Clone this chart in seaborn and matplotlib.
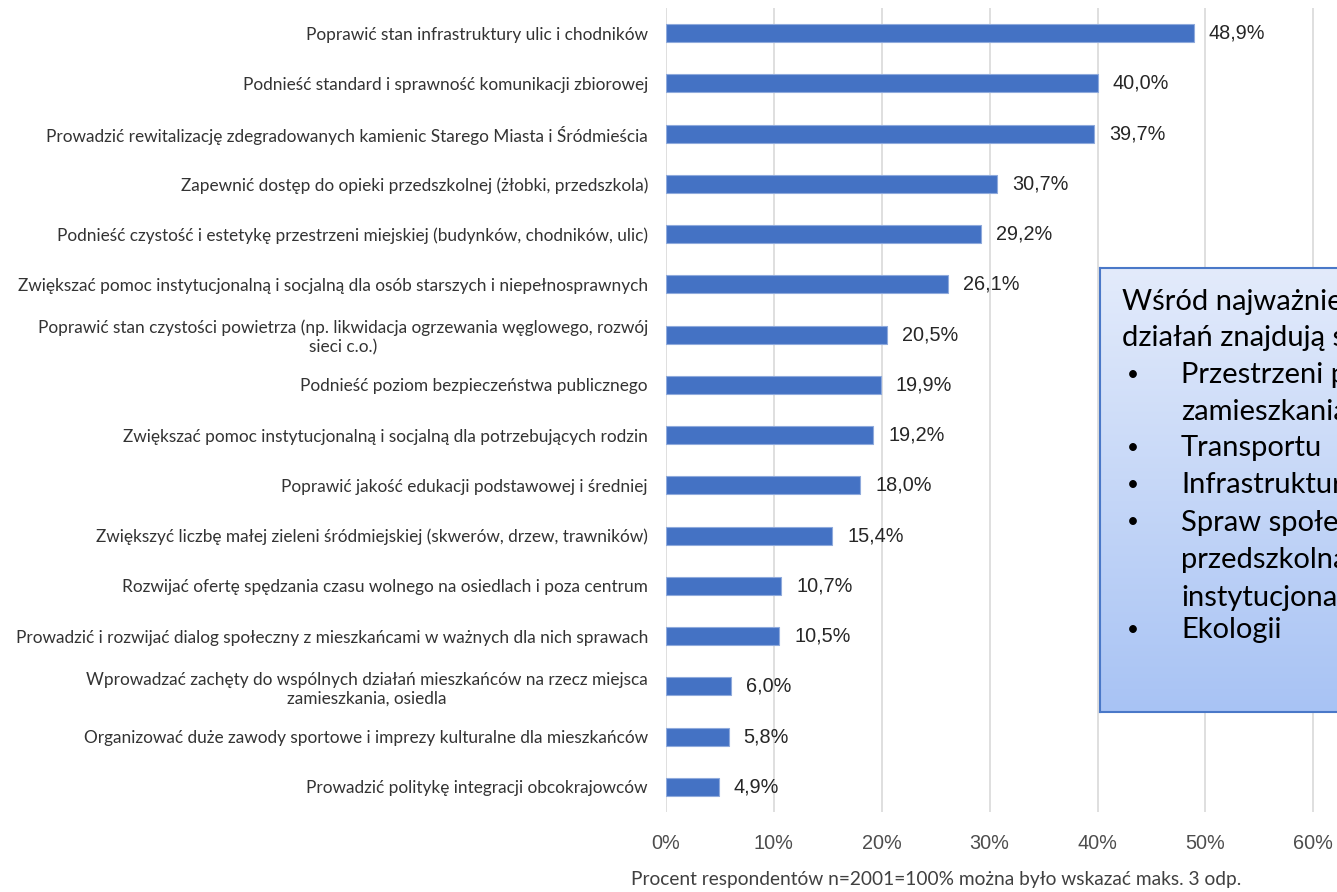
import matplotlib.pyplot as plt
import seaborn as sns
import numpy as np
import pandas as pd
from matplotlib.colors import LinearSegmentedColormap

labels = [
    "Poprawić stan infrastruktury ulic i chodników",
    "Podnieść standard i sprawność komunikacji zbiorowej",
    "Prowadzić rewitalizację zdegradowanych kamienic Starego Miasta i Śródmieścia",
    "Zapewnić dostęp do opieki przedszkolnej (żłobki, przedszkola)",
    "Podnieść czystość i estetykę przestrzeni miejskiej (budynków, chodników, ulic)",
    "Zwiększać pomoc instytucjonalną i socjalną dla osób starszych i niepełnosprawnych",
    "Poprawić stan czystości powietrza (np. likwidacja ogrzewania węglowego, rozwój\nsieci c.o.)",
    "Podnieść poziom bezpieczeństwa publicznego",
    "Zwiększać pomoc instytucjonalną i socjalną dla potrzebujących rodzin",
    "Poprawić jakość edukacji podstawowej i średniej",
    "Zwiększyć liczbę małej zieleni śródmiejskiej (skwerów, drzew, trawników)",
    "Rozwijać ofertę spędzania czasu wolnego na osiedlach i poza centrum",
    "Prowadzić i rozwijać dialog społeczny z mieszkańcami w ważnych dla nich sprawach",
    "Wprowadzać zachęty do wspólnych działań mieszkańców na rzecz miejsca\nzamieszkania, osiedla",
    "Organizować duże zawody sportowe i imprezy kulturalne dla mieszkańców",
    "Prowadzić politykę integracji obcokrajowców",
]
values = [48.9, 40.0, 39.7, 30.7, 29.2, 26.1, 20.5, 19.9, 19.2, 18.0, 15.4, 10.7, 10.5, 6.0, 5.8, 4.9]
x_ticks = [0, 10, 20, 30, 40, 50, 60]
x_title = "Procent respondentów n=2001=100% można było wskazać maks. 3 odp."

box_lines = [
    ("", "Wśród najważniejszych"),
    ("", "działań znajdują się sprawy:"),
    ("•", "Przestrzeni publicznej i"),
    ("", "zamieszkania"),
    ("•", "Transportu"),
    ("•", "Infrastruktury"),
    ("•", "Spraw społecznych (opieka"),
    ("", "przedszkolna, pomoc"),
    ("", "instytucjonalna)"),
    ("•", "Ekologii"),
]

sns.set_theme(style="white")
label_font = ['Lato', 'DejaVu Sans']
num_font = ['Liberation Sans', 'DejaVu Sans']
plt.rcParams['font.family'] = label_font

df = pd.DataFrame({"label": labels, "value": values})

fig = plt.figure(figsize=(13.37, 8.92), dpi=100)
ax = fig.add_axes([666 / 1337, 1 - 812 / 892, 671 / 1337, 804 / 892])

sns.barplot(data=df, x="value", y="label", color="#4472c4", width=0.36,
            edgecolor="#8faadc", linewidth=0.8, saturation=1, ax=ax, zorder=3)

ax.set_xlim(0, 62.2)
ax.set_xticks(x_ticks)
ax.set_xticklabels([f"{t}%" for t in x_ticks], fontsize=13, color="#4d4d4d",
                   family=num_font)
ax.tick_params(axis="x", length=0, pad=16)
ax.tick_params(axis="y", length=0, pad=13)
for t in ax.get_yticklabels():
    t.set_fontsize(12.5)
    t.set_color("#333333")
    t.set_multialignment("center")
ax.xaxis.grid(True, color="#d9d9d9", linewidth=1.2, zorder=0)
ax.set_xlabel("")
ax.set_ylabel("")
sns.despine(ax=ax, left=True, bottom=True)

vals_txt = []
for i, v in enumerate(values):
    vals_txt.append(ax.text(v + 1.4, i, f"{v:.1f}%".replace(".", ","), va="center",
                            ha="left", fontsize=13, color="#262626", family=num_font))

xt = fig.text(0.7, 1 - 880 / 892, x_title, ha="center", va="center",
              fontsize=13, color="#404040")

# fit font sizes to the widths seen in the picture
fig.canvas.draw()
r = fig.canvas.get_renderer()
longest = ax.get_yticklabels()[5]
w = longest.get_window_extent(r).width
ysize = 12.5 * 634 / w
for t in ax.get_yticklabels():
    t.set_fontsize(ysize)
w = vals_txt[0].get_window_extent(r).width
vsize = 13 * 56 / w
for t in vals_txt:
    t.set_fontsize(vsize)
for t in ax.get_xticklabels():
    t.set_fontsize(vsize)
w = xt.get_window_extent(r).width
xt.set_fontsize(13 * 608 / w)

# text box with gradient
bx = fig.add_axes([1100 / 1337, 1 - 712 / 892, 300 / 1337, 444 / 892])
grad = np.linspace(0, 1, 256).reshape(-1, 1)
cmap = LinearSegmentedColormap.from_list("g", ["#e3ebfb", "#a8c3f4"])
bx.imshow(grad, aspect="auto", cmap=cmap, extent=[0, 1, 1, 0])
bx.set_xticks([])
bx.set_yticks([])
for s in bx.spines.values():
    s.set_color("#4a78c8")
    s.set_linewidth(1.5)

ys = [302, 338, 375, 412, 448, 485, 522, 560, 597, 630]
for k, ((bullet, txt), y) in enumerate(zip(box_lines, ys)):
    yy = 1 - y / 892
    if bullet:
        fig.text(1127 / 1337, yy, bullet, ha="left", va="center", fontsize=15,
                 color="black")
    x0 = 1122 if k < 2 else 1181
    fig.text(x0 / 1337, yy, txt, ha="left", va="center", fontsize=21,
             color="black")

fig.savefig("out.png", dpi=100)
